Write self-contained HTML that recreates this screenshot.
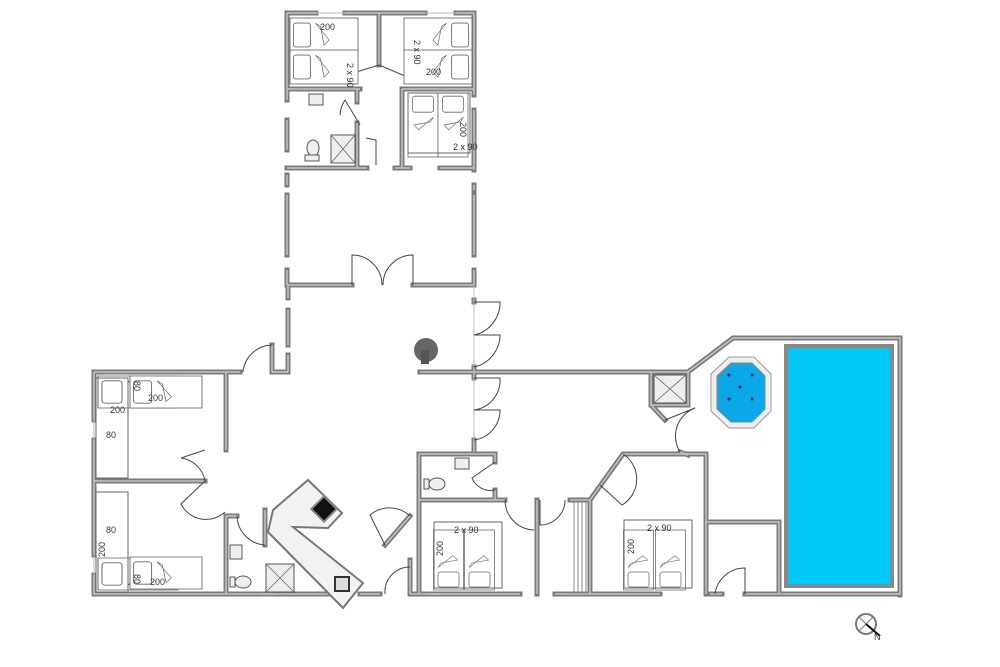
<!DOCTYPE html>
<html><head><meta charset="utf-8"><style>
html,body{margin:0;padding:0;background:#fff;}
svg{display:block}
text{font-family:"Liberation Sans",sans-serif;font-size:9px;fill:#333}
</style></head><body>
<svg width="1000" height="667" viewBox="0 0 1000 667" xmlns="http://www.w3.org/2000/svg">
<defs>
<g id="bed">
<rect x="0" y="0" width="80" height="40" fill="#fff" stroke="#666" stroke-width="1"/>
<rect x="4" y="6" width="20" height="28" rx="3" fill="#fff" stroke="#666" stroke-width="1"/>
<path d="M30 6 L46 26 L40 32 L36 10 Z" fill="#fff" stroke="#666" stroke-width="0.8"/>
</g>
<g id="w">
<path d="M287 13 H316 M345 13 H425 M456 13 H474"/>
<path d="M287 13 V100 M287 120 V150 M287 175 V185 M287 195 V255 M287 270 V285"/>
<path d="M474 13 V95 M474 110 V170 M474 185 V190 M474 195 V255 M474 270 V285"/>
<path d="M379 13 V65"/>
<path d="M287 89 H360 M402 89 H474"/>
<path d="M357 89 V102 M357 123 V168 M402 89 V168"/>
<path d="M287 168 H367 M395 168 H410 M440 168 H474"/>
<path d="M287 285 H352 M413 285 H473"/>
<path d="M288 285 V298 M288 310 V345 M288 355 V372 M272 372 H288 M272 345 V372"/>
<path d="M474 300 V302 M474 367 V378 M474 440 V452"/>
<path d="M420 372 H688 L733 338 H900 V595"/>
<path d="M94 372 H240 M94 372 V420 M94 440 V555 M94 575 V594 H330"/>
<path d="M94 481 H205"/>
<path d="M226 372 V450 M226 516 V594"/>
<path d="M226 516 H237"/>
<path d="M262 594 H275 M265 510 V545"/>
<path d="M419 454 H495 V462 M495 490 V500 M419 454 V594 M419 500 H505"/>
<path d="M537 500 V594 M570 500 H590 V594 M590 500 L623 454 H706 V594 M706 522 H779 V594"/>
<path d="M360 594 H380 M410 594 V560 M410 516 L385 545"/>
<path d="M430 594 H520 M555 594 H660"/>
<path d="M651 372 V405 L665 420 M680 452 L688 455"/>
<path d="M651 405 H688 V372"/>
<path d="M710 594 H722 M745 594 H900"/>
<path d="M410 594 H440"/>
</g>
</defs>
<g fill="none" stroke="#7b7b7b" stroke-width="5" stroke-linecap="square"><use href="#w"/></g>
<g fill="none" stroke="#c4c4c4" stroke-width="1.5" stroke-linecap="butt"><use href="#w"/></g>
<g stroke="#bbb" stroke-width="1">
<path d="M474 285 V445 M316 13 H345 M425 13 H456 M900 345 V400"/>
<path d="M94 420 V440 M94 555 V575"/>
</g>
<g fill="none" stroke="#444" stroke-width="1">
<path d="M352 285 V255 A30 30 0 0 1 382 285"/>
<path d="M413 285 V255 A30 30 0 0 0 383 285"/>
<path d="M474 302 H500 A33 33 0 0 1 474 335"/>
<path d="M474 335 H500 A33 33 0 0 1 474 367"/>
<path d="M474 378 H500 A30 30 0 0 1 474 410"/>
<path d="M474 410 H500 A30 30 0 0 1 474 440"/>
<path d="M272 345 A30 30 0 0 0 243 372"/>
<path d="M205 450 L181 458 A28 28 0 0 1 205 481"/>
<path d="M205 481 L181 504 A28 28 0 0 0 225 512"/>
<path d="M237 516 A30 30 0 0 0 265 545"/>
<path d="M385 545 L370 515 A30 30 0 0 1 410 516"/>
<path d="M410 567 A25 25 0 0 0 385 594"/>
<path d="M495 462 L472 478 A20 20 0 0 0 495 490"/>
<path d="M505 500 A30 30 0 0 0 534 530"/>
<path d="M540 500 V525 A25 25 0 0 0 565 500"/>
<path d="M623 454 A30 30 0 0 1 622 505 L600 485"/>
<path d="M665 420 L695 408 A30 30 0 0 0 680 452"/>
<path d="M745 594 V568 A30 30 0 0 0 715 594"/>
<path d="M360 125 L345 100 A30 30 0 0 0 340 115"/>
<path d="M376 165 V140 L366 138"/>
<path d="M343 76 L379 65 L405 76"/>
</g>
<g stroke="#888" stroke-width="1"><path d="M574 500 V594 M578 500 V594 M582 500 V594 M586 500 V594"/></g>
<use href="#bed" transform="translate(290,18) scale(0.85,0.85)"/>
<use href="#bed" transform="translate(290,50) scale(0.85,0.85)"/>
<use href="#bed" transform="translate(472,18) scale(-0.85,0.85)"/>
<use href="#bed" transform="translate(472,50) scale(-0.85,0.85)"/>
<use href="#bed" transform="translate(408,93) rotate(90) translate(0,-30) scale(0.8,0.75)"/>
<use href="#bed" transform="translate(438,93) rotate(90) translate(0,-30) scale(0.8,0.75)"/>
<use href="#bed" transform="translate(98,376) scale(1,0.8)"/>
<use href="#bed" transform="translate(98,590) scale(1,-0.8)"/>
<use href="#bed" transform="translate(130,376) scale(0.9,0.8)"/>
<use href="#bed" transform="translate(130,557) scale(0.9,0.8)"/>
<use href="#bed" transform="translate(465,590) rotate(-90) scale(0.75,0.75) translate(0,-42)"/>
<use href="#bed" transform="translate(496,590) rotate(-90) scale(0.75,0.75) translate(0,-42)"/>
<use href="#bed" transform="translate(655,590) rotate(-90) scale(0.75,0.75) translate(0,-42)"/>
<use href="#bed" transform="translate(687,590) rotate(-90) scale(0.75,0.75) translate(0,-42)"/>
<rect x="96" y="378" width="32" height="100" fill="none" stroke="#666"/>
<rect x="96" y="492" width="32" height="100" fill="none" stroke="#666"/>
<rect x="434" y="522" width="68" height="66" fill="none" stroke="#666"/>
<rect x="624" y="520" width="68" height="68" fill="none" stroke="#666"/>
<rect x="408" y="93" width="62" height="60" fill="none" stroke="#666"/>
<text x="320" y="30">200</text>
<text x="426" y="75">200</text>
<text x="453" y="150">2 x 90</text>
<text x="148" y="401">200</text>
<text x="110" y="413">200</text>
<text x="106" y="438">80</text>
<text x="106" y="533">80</text>
<text x="150" y="585">200</text>
<text x="454" y="533">2 x 90</text>
<text x="647" y="531">2 x 90</text>
<text transform="translate(347,63) rotate(90)">2 x 90</text>
<text transform="translate(414,40) rotate(90)">2 x 90</text>
<text transform="translate(460,122) rotate(90)">200</text>
<text transform="translate(105,557) rotate(-90)">200</text>
<text transform="translate(443,556) rotate(-90)">200</text>
<text transform="translate(634,554) rotate(-90)">200</text>
<text transform="translate(134,381) rotate(90)">80</text>
<text transform="translate(134,574) rotate(90)">80</text>
<g fill="#eee" stroke="#555" stroke-width="1">
<rect x="309" y="94" width="14" height="11"/>
<ellipse cx="313" cy="148" rx="6" ry="8"/><rect x="305" y="155" width="14" height="6"/>
<rect x="331" y="135" width="24" height="28"/>
<rect x="455" y="458" width="14" height="11"/>
<ellipse cx="437" cy="484" rx="8" ry="6"/><rect x="424" y="479" width="5" height="10"/>
<rect x="230" y="545" width="12" height="14"/>
<ellipse cx="243" cy="582" rx="8" ry="6"/><rect x="230" y="577" width="5" height="10"/>
<rect x="266" y="564" width="28" height="28"/>
<rect x="654" y="375" width="32" height="28"/>
</g>
<g stroke="#666" stroke-width="0.8"><path d="M331 135 L355 163 M355 135 L331 163 M266 564 L294 592 M294 564 L266 592 M654 375 L686 403 M686 375 L654 403"/></g>
<polygon points="308,480 342,513 328,528 293,527 363,583 343,608 268,532 273,510" fill="#f2f2f2" stroke="#777" stroke-width="2"/>
<rect x="315" y="500" width="18" height="18" fill="#111" stroke="#888" stroke-width="2" transform="rotate(45 324 509)"/>
<rect x="335" y="577" width="14" height="14" fill="#ddd" stroke="#333" stroke-width="2"/>
<circle cx="426" cy="350" r="12" fill="#666"/><rect x="421" y="350" width="8" height="14" fill="#555"/>
<polygon points="729,357 754,357 771,374 771,411 754,428 729,428 711,411 711,374" fill="#eee" stroke="#999"/>
<polygon points="731,363 752,363 765,376 765,409 752,422 731,422 717,409 717,376" fill="#0aa8e8" stroke="#888"/>
<g fill="#123"><circle cx="729" cy="375" r="1.5"/><circle cx="752" cy="375" r="1.5"/><circle cx="740" cy="387" r="1.5"/><circle cx="729" cy="399" r="1.5"/><circle cx="752" cy="399" r="1.5"/></g>
<rect x="786" y="346" width="106" height="240" fill="#00c8f5" stroke="#888" stroke-width="4"/>
<circle cx="866" cy="624" r="10" fill="none" stroke="#777" stroke-width="2"/>
<path d="M859 617 L873 631 M873 617 L859 631" stroke="#777"/>
<path d="M866 624 L880 636" stroke="#111" stroke-width="2"/>
<text x="874" y="640" font-size="8">N</text>
</svg>
</body></html>
